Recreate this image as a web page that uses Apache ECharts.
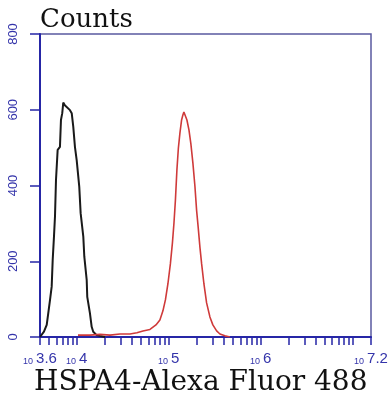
<!DOCTYPE html>
<html><head><meta charset="utf-8">
<script src="https://cdn.jsdelivr.net/npm/echarts@6/dist/echarts.min.js"></script>
<style>html,body{margin:0;padding:0;background:#fff}#c{width:392px;height:400px}</style>
</head><body><div id="c"></div>
<script>
// Control (black) histogram: x = log10 fluorescence, y = counts
const blackLog = [3.600, 3.618, 3.643, 3.673, 3.690, 3.709, 3.727, 3.738, 3.752, 3.763, 3.774, 3.792, 3.817, 3.828, 3.842, 3.853, 3.870, 3.890, 3.926, 3.945, 3.962, 3.980, 3.999, 4.027, 4.042, 4.071, 4.082, 4.108, 4.114, 4.143, 4.162, 4.179, 4.216, 4.252, 4.307];
const blackCounts = [0, 5, 14, 32, 63, 98, 133, 203, 265, 318, 415, 494, 502, 573, 591, 619, 612, 608, 599, 591, 555, 502, 467, 397, 327, 265, 212, 150, 106, 63, 27, 14, 5, 3, 0];
// HSPA4 (red) histogram
const redLog = [4.013, 4.143, 4.252, 4.361, 4.470, 4.578, 4.654, 4.720, 4.796, 4.861, 4.904, 4.937, 4.964, 4.991, 5.018, 5.040, 5.057, 5.073, 5.089, 5.105, 5.122, 5.140, 5.154, 5.165, 5.182, 5.198, 5.220, 5.241, 5.263, 5.285, 5.303, 5.321, 5.339, 5.358, 5.383, 5.412, 5.448, 5.480, 5.521, 5.557, 5.611, 5.665];
const redCounts = [5, 5, 7, 5, 8, 8, 11, 16, 20, 32, 45, 69, 98, 140, 193, 248, 301, 362, 441, 499, 539, 573, 586, 594, 589, 573, 547, 510, 459, 398, 335, 288, 238, 193, 140, 90, 53, 32, 16, 8, 3, 0];

const yTickValues = [0, 200, 400, 600, 800];
const xLabelExps = [3.6, 4, 5, 6, 7.2];
const xLabelTexts = ['3.6', '4', '5', '6', '7.2'];
const minorMantissas = [2, 3, 4, 5, 6, 7, 8, 9];
const xMin = 3.6, xMax = 7.2;
const titleText = 'Counts';
const xTitleText = 'HSPA4-Alexa Fluor 488';

// tick positions (log spaced)
const xTickValues = [xMin];
for (let d = 3; d <= 7; d++) {
  [1].concat(minorMantissas).forEach(m => {
    const v = d + Math.log10(m);
    if (v > xMin + 0.01 && v < xMax - 0.001) xTickValues.push(v);
  });
}
xTickValues.push(xMax);

const zip = (a, b) => a.map((v, i) => [v, b[i]]);
const AX = '#2626a6', LB = '#3434aa';

const chart = echarts.init(document.getElementById('c'), null, {renderer: 'canvas'});
chart.setOption({
  animation: false,
  backgroundColor: '#fff',
  title: [
    {text: titleText, left: 35, top: 2, textStyle: {fontFamily: 'DejaVu Serif', fontSize: 26, fontWeight: 'normal', color: '#111'}},
    {text: xTitleText, left: 29, top: 364, textStyle: {fontFamily: 'DejaVu Serif', fontSize: 28, fontWeight: 'normal', color: '#111'}}
  ],
  grid: {left: 40, right: 21, top: 34, bottom: 63, show: true, borderColor: '#5a5aa0', borderWidth: 1.5, backgroundColor: '#fff'},
  xAxis: {
    type: 'value', min: xMin, max: xMax,
    splitLine: {show: false},
    axisLine: {lineStyle: {color: AX, width: 2}},
    axisTick: {customValues: xTickValues, length: 8, lineStyle: {color: AX, width: 1.5}},
    axisLabel: {
      customValues: xLabelExps, margin: 14,
      formatter: v => {
        const i = xLabelExps.findIndex(e => Math.abs(e - v) < 1e-6);
        return '{s|10}{e|' + (i >= 0 ? xLabelTexts[i] : v) + '}';
      },
      rich: {
        s: {fontSize: 9, fontFamily: 'Liberation Sans', color: LB, verticalAlign: 'bottom', lineHeight: 9, padding: [0, 3, 0, 0]},
        e: {fontSize: 15, fontFamily: 'Liberation Sans', color: LB, verticalAlign: 'top', lineHeight: 15}
      }
    }
  },
  yAxis: {
    type: 'value', min: 0, max: 800, interval: 200,
    splitLine: {show: false},
    axisLine: {show: true, lineStyle: {color: AX, width: 2}},
    axisTick: {show: true, length: 10, lineStyle: {color: AX, width: 1.5}},
    axisLabel: {
      rotate: 90, margin: 20, fontSize: 13, fontFamily: 'Liberation Sans', color: LB,
      formatter: v => yTickValues.includes(v) ? String(v) : ''
    }
  },
  series: [
    {type: 'line', data: zip(blackLog, blackCounts), showSymbol: false, lineStyle: {color: '#1a1a1a', width: 2}, z: 3},
    {type: 'line', data: zip(redLog, redCounts), showSymbol: false, lineStyle: {color: '#cf3a3a', width: 1.6}, z: 4}
  ]
});
</script></body></html>
